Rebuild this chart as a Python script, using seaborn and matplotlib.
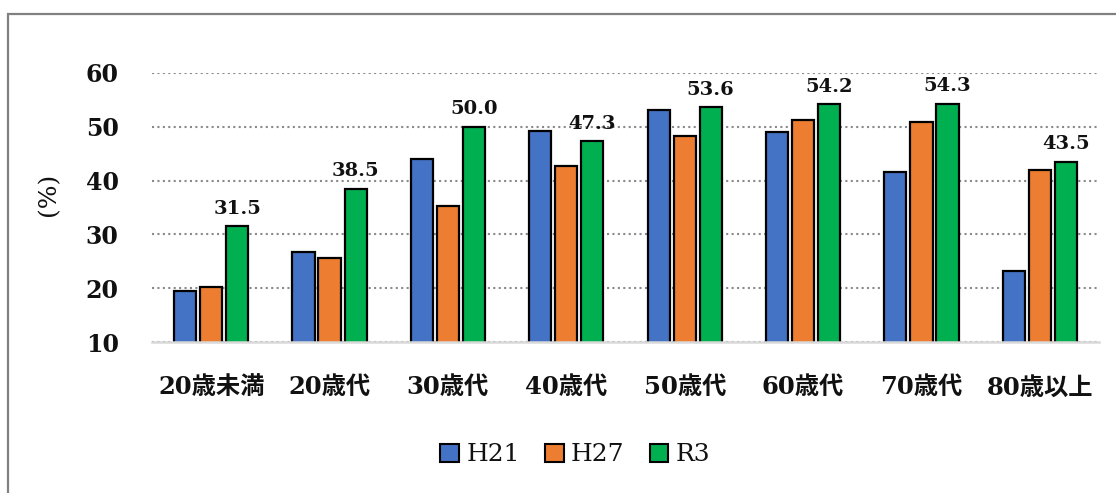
import matplotlib
matplotlib.use("Agg")
import matplotlib.pyplot as plt
import matplotlib.patches as mpatches
import seaborn as sns
import pandas as pd

categories = ["20歳未満", "20歳代", "30歳代", "40歳代", "50歳代", "60歳代", "70歳代", "80歳以上"]
years = ["H21", "H27", "R3"]
h21 = [19.4, 26.8, 44.0, 49.3, 53.1, 49.1, 41.6, 23.2]
h27 = [20.3, 25.6, 35.2, 42.8, 48.3, 51.2, 50.9, 41.9]
r3 = [31.5, 38.5, 50.0, 47.3, 53.6, 54.2, 54.3, 43.5]
yticks = [10, 20, 30, 40, 50, 60]
colors = ["#4472C4", "#ED7D31", "#00B050"]

rows = []
for yr, vals in zip(years, [h21, h27, r3]):
    for c, v in zip(categories, vals):
        rows.append({"age": c, "value": v, "year": yr})
df = pd.DataFrame(rows)

sns.set_theme(style="white")
fam = ["DejaVu Serif", "Noto Sans CJK JP"]
plt.rcParams["font.family"] = fam

fig = plt.figure(figsize=(11.16, 4.93), dpi=100)
ax = fig.add_axes([152/1116, 1-342/493, 947/1116, 269/493])

sns.barplot(data=df, x="age", y="value", hue="year", order=categories,
            hue_order=years, palette=colors, saturation=1, edgecolor="black",
            linewidth=1.6, width=0.66, gap=0.15, legend=False, ax=ax, zorder=3)

ax.set_ylim(10, 60)
ax.set_xlim(-0.5, len(categories) - 0.5)
ax.set_yticks(yticks)
ax.set_yticklabels([str(t) for t in yticks], fontsize=17, fontweight="bold", color="#111111")
ax.set_xticks(range(len(categories)))
ax.set_xticklabels(categories, fontsize=17.5, fontweight="bold", color="#111111")
ax.tick_params(axis="y", length=0, pad=24)
ax.tick_params(axis="x", length=0, pad=24)

ax.set_xlabel("")
ax.set_ylabel("(%)", fontsize=18, color="#111111")
ax.yaxis.set_label_coords(-0.097, 0.55)

for s in ["top", "right", "left"]:
    ax.spines[s].set_visible(False)
ax.spines["bottom"].set_color("#d9d9d9")
ax.spines["bottom"].set_linewidth(1.8)
ax.spines["bottom"].set_zorder(4)

ax.set_axisbelow(True)
ax.yaxis.grid(True, linestyle=(0, (1, 1.6)), color="#8a8a8a", linewidth=1.5)
ax.xaxis.grid(False)

ax.bar_label(ax.containers[2], fmt="%.1f", padding=6, fontsize=14,
             fontweight="bold", color="#111111")

handles = [mpatches.Patch(facecolor=c, edgecolor="black", linewidth=1.5) for c in colors]
ax.legend(handles, years, loc="center", bbox_to_anchor=(0.447, -0.42), ncol=3,
          frameon=False, handlelength=0.75, handleheight=0.75, handletextpad=0.3,
          columnspacing=1.0, labelcolor="#111111", prop={"size": 18, "family": fam})

fig.add_artist(mpatches.Rectangle((8/1116, -0.1), 1.2, 1.1 - 14/493,
                                  transform=fig.transFigure, fill=False,
                                  edgecolor="#808080", linewidth=1.6, clip_on=False))

fig.savefig("out.png", dpi=100, facecolor="white")
